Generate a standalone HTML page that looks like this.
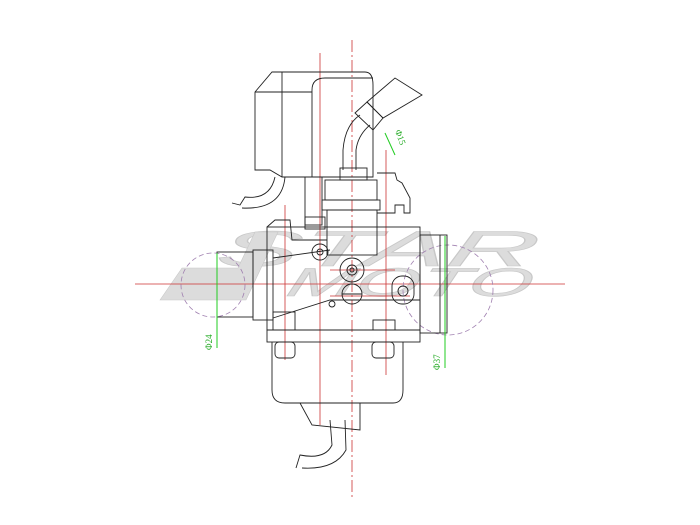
<!DOCTYPE html>
<html><head><style>html,body{margin:0;padding:0;background:#fff}svg{display:block}</style></head><body>
<svg width="700" height="525" viewBox="0 0 700 525" xmlns="http://www.w3.org/2000/svg">
<g font-family="Liberation Sans, sans-serif" font-style="italic" font-weight="normal" fill="#dcdcdc" stroke="#c8c8c8" stroke-width="0.6">
<text x="215" y="266" font-size="50" transform="translate(70,0) skewX(-15)" textLength="320" lengthAdjust="spacingAndGlyphs">STAR</text>
<text x="285" y="296" font-size="40" transform="translate(79,0) skewX(-15)" textLength="245" lengthAdjust="spacingAndGlyphs">MOTO</text>
<polygon points="160,300 182,268 238,268 255,232 278,232 246,300" />
</g>
<g fill="none" stroke="#c33" stroke-width="0.8">
<line x1="135" y1="284" x2="565" y2="284"/>
<line x1="320" y1="53" x2="320" y2="425"/>
<line x1="352" y1="40" x2="352" y2="500" stroke-dasharray="12,3,2,3"/>
<line x1="285" y1="205" x2="285" y2="360"/>
<line x1="386" y1="150" x2="386" y2="375"/>
<line x1="420" y1="250" x2="420" y2="320"/>
<line x1="330" y1="270" x2="395" y2="270"/>
<line x1="330" y1="296" x2="410" y2="296"/>
</g>
<g fill="none" stroke="#a080b0" stroke-width="0.8" stroke-dasharray="5,3">
<circle cx="213" cy="285" r="32"/>
<circle cx="448" cy="290" r="45"/>
</g>
<g fill="none" stroke="#222" stroke-width="0.9">
<path d="M255,92 L272,72 L365,72 Q373,72 373,85 L373,177 L282,177 L270,170 L255,170 Z"/>
<line x1="282" y1="72" x2="282" y2="177"/><line x1="255" y1="92" x2="282" y2="92"/>
<line x1="282" y1="92" x2="312" y2="92"/>
<path d="M312,177 L312,90 Q312,78 325,78 L373,78"/>
<path d="M275,177 Q270,200 245,197 L240,205 L232,203 M285,177 Q282,210 242,208"/>
<rect x="305" y="177" width="17" height="48"/><rect x="305" y="217" width="20" height="12"/>
<path d="M343,170 L343,150 Q345,125 360,115 M356,170 L356,150 Q358,135 370,125"/>
<polygon points="355,113 367,102 383,118 373,130"/>
<polygon points="367,102 395,78 422,95 383,118"/>
<rect x="340" y="168" width="27" height="12"/>
<rect x="325" y="180" width="52" height="20"/>
<rect x="322" y="200" width="58" height="10"/>
<rect x="327" y="210" width="50" height="45"/>
<path d="M377,173 L395,173 L397,180 L402,183 L410,198 L410,213 L404,213 L404,205 L395,205 L395,213 L377,213"/>
<rect x="267" y="227" width="153" height="103"/>
<path d="M267,227 L275,220 L290,220 L292,240 L327,240"/>
<rect x="217" y="252" width="36" height="65"/><rect x="253" y="250" width="20" height="70"/>
<path d="M273,258 L330,250 M273,318 L330,300 L420,300"/>
<rect x="420" y="235" width="27" height="98"/><line x1="440" y1="235" x2="440" y2="333"/>
<circle cx="352" cy="270" r="12"/><circle cx="352" cy="270" r="5"/><circle cx="352" cy="270" r="2"/>
<circle cx="352" cy="294" r="10"/><line x1="342" y1="294" x2="362" y2="294"/>
<circle cx="320" cy="252" r="8"/><circle cx="320" cy="252" r="3"/>
<circle cx="332" cy="304" r="3"/>
<rect x="392" y="276" width="22" height="28" rx="10"/><circle cx="403" cy="291" r="5"/>
<rect x="273" y="312" width="22" height="18"/><rect x="373" y="320" width="22" height="10"/>
<rect x="267" y="330" width="153" height="12"/>
<path d="M272,342 L272,390 Q272,403 285,403 L393,403 Q403,403 403,390 L403,342"/>
<rect x="275" y="342" width="20" height="16" rx="4"/><rect x="372" y="342" width="22" height="16" rx="4"/>
<path d="M300,403 L312,425 L360,430 L360,403"/>
<path d="M330,420 L332,445 Q325,460 300,455 L296,468 M345,420 L346,450 Q335,470 302,468"/>
</g>
<g stroke="#2c2" stroke-width="1" fill="none">
<line x1="217" y1="253" x2="217" y2="348"/><line x1="445" y1="236" x2="445" y2="368"/>
<line x1="385" y1="133" x2="395" y2="155"/>
</g>
<g fill="#2a2" font-family="Liberation Serif, serif" font-size="9">
<text transform="translate(212,350) rotate(-90)">Φ24</text>
<text transform="translate(440,370) rotate(-90)">Φ37</text>
<text transform="translate(395,131) rotate(70)">Φ15</text>
</g>
</svg>
</body></html>
